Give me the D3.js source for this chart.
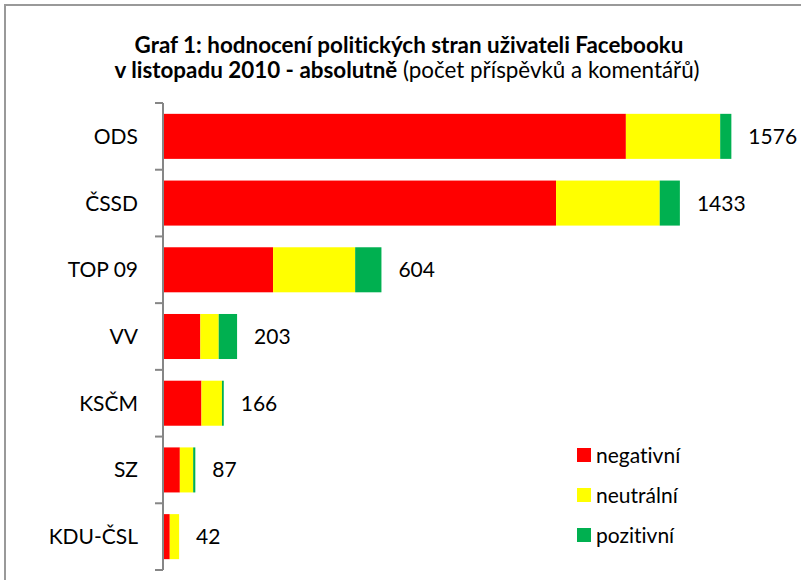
<!DOCTYPE html>
<html><head><meta charset="utf-8">
<script src="https://cdn.jsdelivr.net/npm/d3@7"></script>
<style>
body{margin:0;background:#fff;}
text{font-family:Lato, "Open Sans", sans-serif;fill:#000;font-variant-ligatures:none;}
</style></head>
<body>
<svg id="chart" width="801" height="580"></svg>
<script>
const categories = ["ODS","ČSSD","TOP 09","VV","KSČM","SZ","KDU-ČSL"];
const negativni = [1283,1089,303,101,104,44,16];
const neutralni = [262,288,228,51,57,37,26];
const pozitivni = [31,56,73,51,5,6,0];
const totals = [1576,1433,604,203,166,87,42];
const seriesNames = ["negativní","neutrální","pozitivní"];
const seriesColors = ["#FF0000","#FFFF00","#00B050"];

const svg = d3.select("#chart");
svg.append("rect").attr("x",0).attr("y",0).attr("width",801).attr("height",580).attr("fill","#fff");
// border
svg.append("path").attr("d","M5,580 V5 H801").attr("fill","none").attr("stroke","#999").attr("stroke-width",2);

// title
const t = svg.append("text").attr("text-anchor","middle").attr("font-size",22.4);
t.append("tspan").attr("x",409).attr("y",53).attr("font-weight","bold").text("Graf 1: hodnocení politických stran uživateli Facebooku");
const l2 = t.append("tspan").attr("x",407).attr("y",78);
l2.append("tspan").attr("font-weight","bold").text("v listopadu 2010 - absolutně");
l2.append("tspan").text(" (počet příspěvků a komentářů)");

const x = d3.scaleLinear().domain([0,1600]).range([164,740]);
const y = d3.scaleBand().domain(categories).range([103,570]).paddingInner(0.325).paddingOuter(0.1625);

const rows = categories.map((c,i)=>({cat:c, negativni:negativni[i], neutralni:neutralni[i], pozitivni:pozitivni[i], total:totals[i]}));
const stack = d3.stack().keys(["negativni","neutralni","pozitivni"])(rows);

svg.append("g").selectAll("g").data(stack).join("g")
  .attr("fill",(d,i)=>seriesColors[i])
  .selectAll("rect").data(d=>d).join("rect")
  .attr("x",d=>x(d[0])).attr("width",d=>x(d[1])-x(d[0]))
  .attr("y",d=>y(d.data.cat)).attr("height",y.bandwidth());

// axis
const ax = svg.append("g").attr("stroke","#868686").attr("stroke-width",2);
ax.append("line").attr("x1",163).attr("x2",163).attr("y1",103).attr("y2",570);
const bounds = categories.map(c=>y(c)-y.step()*y.paddingInner()/2).concat([570]);
ax.selectAll("line.t").data(bounds).join("line").attr("class","t")
  .attr("x1",155).attr("x2",163).attr("y1",d=>d).attr("y2",d=>d);

// category labels
svg.append("g").selectAll("text").data(categories).join("text")
  .attr("x",138).attr("y",d=>y(d)+y.bandwidth()/2).attr("dy","0.36em")
  .attr("text-anchor","end").attr("font-size",21).text(d=>d);

// value labels
svg.append("g").selectAll("text").data(rows).join("text")
  .attr("x",d=>x(d.total)+17).attr("y",d=>y(d.cat)+y.bandwidth()/2).attr("dy","0.36em")
  .attr("font-size",21).text(d=>d.total);

// legend
const lg = svg.append("g").selectAll("g").data(seriesNames).join("g")
  .attr("transform",(d,i)=>`translate(577,${448+i*40})`);
lg.append("rect").attr("width",14).attr("height",14).attr("fill",(d,i)=>seriesColors[i]);
lg.append("text").attr("x",19).attr("y",7).attr("dy","0.36em").attr("font-size",21).text(d=>d);
</script>
</body></html>
